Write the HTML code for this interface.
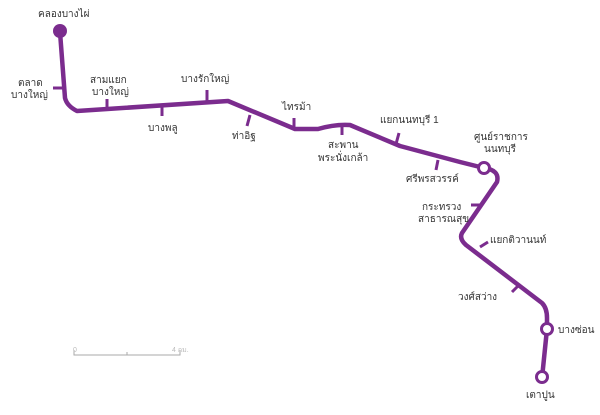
<!DOCTYPE html>
<html><head><meta charset="utf-8"><style>
html,body{margin:0;padding:0;background:#fff;width:600px;height:415px;overflow:hidden}
svg text{font-family:"Liberation Sans","Noto Sans CJK SC",sans-serif;font-size:10px;fill:#333}
</style></head><body>
<svg width="600" height="415" viewBox="0 0 600 415" xmlns="http://www.w3.org/2000/svg">
<g stroke="#7b2c8e" stroke-width="4.5" fill="none" stroke-linejoin="round" stroke-linecap="butt">
<path d="M60,32 L65,98 Q67,106 77,111 L228,101 L295,129 L318,129 Q335,124 350,125 L400,146 L460,162 L484,168 Q500,170 497,182 L462,233 Q459,239 466,245 L542,303 Q547,308 547,318 L547,329 L542,378"/>
<g stroke-width="3">
<line x1="53" y1="88" x2="65" y2="88"/>
<line x1="107" y1="99" x2="107" y2="109"/>
<line x1="162" y1="105" x2="162" y2="116"/>
<line x1="207" y1="90" x2="207" y2="101"/>
<line x1="250" y1="115" x2="247" y2="126"/>
<line x1="294" y1="118" x2="294" y2="129"/>
<line x1="342" y1="124" x2="342" y2="135"/>
<line x1="399" y1="133" x2="396" y2="144"/>
<line x1="438" y1="160" x2="436" y2="170"/>
<line x1="471" y1="205" x2="481" y2="205"/>
<line x1="480" y1="247" x2="488" y2="242"/>
<line x1="519" y1="285" x2="512" y2="292"/>
</g>
</g>
<circle cx="60" cy="31" r="7" fill="#7b2c8e"/>
<g fill="#fff" stroke="#7b2c8e" stroke-width="3">
<circle cx="484" cy="168" r="5.5"/>
<circle cx="547" cy="329" r="5.5"/>
<circle cx="542" cy="377" r="5.5"/>
</g>
<g>
<text x="38" y="17">คลองบางไผ่</text>
<text x="18" y="86">ตลาด</text>
<text x="11" y="98">บางใหญ่</text>
<text x="90" y="83">สามแยก</text>
<text x="92" y="95">บางใหญ่</text>
<text x="148" y="131">บางพลู</text>
<text x="181" y="82">บางรักใหญ่</text>
<text x="232" y="139">ท่าอิฐ</text>
<text x="282" y="110">ไทรม้า</text>
<text x="328" y="148">สะพาน</text>
<text x="318" y="161">พระนั่งเกล้า</text>
<text x="380" y="123">แยกนนทบุรี 1</text>
<text x="406" y="182">ศรีพรสวรรค์</text>
<text x="474" y="140">ศูนย์ราชการ</text>
<text x="484" y="152">นนทบุรี</text>
<text x="422" y="210">กระทรวง</text>
<text x="418" y="222">สาธารณสุข</text>
<text x="490" y="243">แยกติวานนท์</text>
<text x="458" y="300">วงศ์สว่าง</text>
<text x="558" y="333">บางซ่อน</text>
<text x="526" y="398">เตาปูน</text>
</g>
<g stroke="#aaa" stroke-width="1" fill="none">
<path d="M74,350 V355 H180 V350 M127,355 V352"/>
</g>
<text x="73" y="352" style="font-size:7px;fill:#bbb">0</text>
<text x="172" y="352" style="font-size:7px;fill:#bbb">4 กม.</text>
</svg>
</body></html>
